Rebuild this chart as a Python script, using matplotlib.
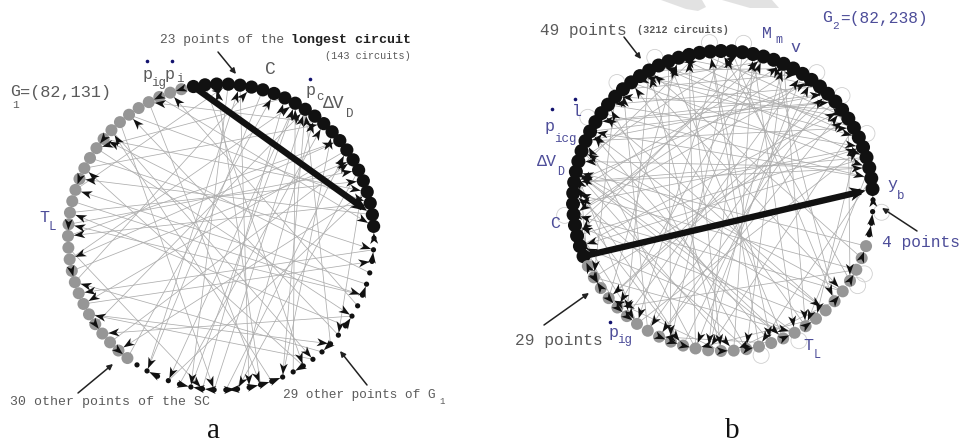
import numpy as np
import matplotlib
matplotlib.use("Agg")
import matplotlib.pyplot as plt
from matplotlib.patches import Circle, Polygon

# -----------------------------------------------------------------
# Graph data: 82 points per graph, edges are (from, to) point indices
# -----------------------------------------------------------------

# G1 = (82,131): points 0-22 longest circuit, 23-51 other points of G1,
# 52-81 other points of the SC
g1_circuit = list(range(0, 23))
g1_other = list(range(23, 52))
g1_sc = list(range(52, 82))
g1_longest = (0, 21)
g1_edges = [
    (60, 5), (62, 9), (64, 14), (66, 18), (68, 3), (70, 12), (72, 30), (74, 35),
    (76, 20), (78, 40), (56, 10), (54, 16), (58, 25), (52, 7), (57, 33), (63, 45),
    (67, 28), (71, 24), (75, 44), (79, 22), (45, 8), (47, 12), (40, 2), (38, 13),
    (36, 70), (34, 60), (32, 76), (30, 55), (28, 65), (26, 73), (42, 11), (48, 19),
    (50, 4), (24, 59), (27, 68), (29, 80), (31, 66), (35, 57), (39, 74), (43, 15),
    (3, 46), (6, 50), (10, 38), (14, 62), (17, 42), (19, 53), (21, 69), (1, 36),
    (8, 72), (12, 78), (15, 58), (18, 32), (20, 64), (4, 41), (9, 48), (33, 10),
    (37, 9), (44, 10), (46, 9), (61, 16), (65, 17), (73, 19),
    (41, 40), (43, 42), (39, 38), (44, 45), (36, 37), (33, 34), (31, 30), (28, 27),
    (25, 24), (23, 22), (47, 46), (49, 50), (13, 12), (11, 10), (16, 15), (2, 1),
    (6, 7), (81, 80), (79, 78), (73, 72), (69, 68), (65, 64), (61, 60), (56, 55),
    (53, 52), (42, 43), (40, 39), (45, 46),
]

# G2 = (82,238): points 0-48 (49 points), 49-52 (4 points), 53-81 (29 points)
g2_circuit = list(range(0, 49))
g2_other = list(range(49, 53))
g2_rest = list(range(53, 82))
g2_longest = (0, 48)
g2_loops = [4, 13, 17, 21, 26, 29, 36, 39, 43, 50, 55, 56, 62, 65]
g2_edges = [
    (60, 3), (62, 8), (64, 12), (66, 15), (68, 20), (70, 24), (72, 28), (74, 31),
    (76, 35), (78, 38), (80, 41), (55, 6), (57, 10), (59, 14), (61, 18), (63, 22),
    (65, 26), (67, 30), (69, 33), (71, 36), (73, 40), (75, 44), (77, 2), (79, 5),
    (81, 9), (1, 40), (2, 44), (4, 36), (6, 33), (7, 46), (9, 29), (11, 42),
    (13, 38), (14, 47), (17, 35), (19, 43), (21, 45), (23, 37), (25, 41), (3, 31),
    (8, 25), (12, 39), (15, 44), (18, 46), (20, 34), (34, 4), (36, 7), (38, 11),
    (39, 13), (40, 16), (41, 19), (42, 21), (43, 23), (45, 1), (46, 9), (47, 12),
    (44, 5), (37, 15), (32, 18), (30, 2), (28, 58), (30, 62), (33, 66), (35, 70),
    (37, 74), (39, 78), (41, 56), (43, 60), (26, 64), (24, 68), (22, 72), (20, 76),
    (16, 80), (12, 59), (10, 63), (8, 67), (5, 71), (3, 75), (0, 79), (46, 61),
    (47, 65), (42, 69), (38, 73), (31, 77), (54, 20), (56, 27), (58, 32), (62, 1),
    (66, 6), (70, 11), (74, 17), (78, 23), (53, 8), (57, 4), (59, 8), (63, 8),
    (71, 7), (75, 8), (45, 7), (44, 36), (41, 36), (40, 37), (64, 73), (58, 67),
    (55, 77), (60, 70), (68, 78), (80, 62), (33, 61), (29, 69), (27, 75), (19, 57),
    (51, 50), (52, 51), (49, 48), (54, 53), (56, 55), (58, 57), (61, 60), (63, 62),
    (66, 65), (68, 67), (71, 70), (73, 72), (76, 75), (78, 77), (80, 79), (81, 0),
    (2, 1), (5, 4), (7, 6), (10, 9), (13, 12), (17, 16), (24, 23), (29, 28),
    (33, 32), (37, 36), (40, 39), (44, 43), (47, 46), (72, 71), (77, 76), (79, 80),
]

# -----------------------------------------------------------------
# Layout (pixel units, y pointing down)
# -----------------------------------------------------------------
W, H = 964, 446
G1_CENTER, G1_R = (221, 237), 153
G2_CENTER, G2_R = (723, 201), 150
# start/end angle in degrees for each consecutive group of points
G1_SPANS = [(100.4, 4.0, 23), (-0.4, -123.3, 29), (-127.7, -255.0, 30)]
G2_SPANS = [(201.6, 4.6, 49), (0.4, -13.0, 4), (-17.5, -154.3, 29)]

EDGE_COLOR = "#adadad"
GREY_NODE = "#969696"
BLACK_NODE = "#111111"
GREY_TXT = "#5a5a5a"
BLUE_TXT = "#4d4d99"
DOT_COLOR = "#12126e"
MONO = ["Liberation Mono", "DejaVu Sans Mono"]
SERIF = ["Liberation Serif", "DejaVu Serif"]


def ring(center, radius, spans):
    ang = np.concatenate([np.linspace(a0, a1, n) for a0, a1, n in spans])
    a = np.radians(ang)
    return np.column_stack([center[0] + radius * np.cos(a),
                            center[1] - radius * np.sin(a)]), a


def head(ax, tip, u, length, half, z=4):
    n = np.array([-u[1], u[0]])
    back = tip - u * length
    pts = [tip, back + n * half, tip - u * length * 0.72, back - n * half]
    ax.add_patch(Polygon(pts, closed=True, facecolor=BLACK_NODE,
                         edgecolor="none", zorder=z))


def draw_graph(ax, pos, radius, color, edges, longest, loops=(), angles=None):
    for s, d in edges:
        p, q = pos[s], pos[d]
        ax.plot([p[0], q[0]], [p[1], q[1]], color=EDGE_COLOR, lw=0.55,
                zorder=1, solid_capstyle="butt")
    # self-loops drawn outside the ring
    for k in loops:
        c = pos[k] + 9 * np.array([np.cos(angles[k]), -np.sin(angles[k])])
        ax.add_patch(Circle(c, 8, facecolor="none", edgecolor="#cfcfcf",
                            lw=0.6, zorder=1))
    # longest circuit chord
    s, d = longest
    p, q = pos[s], pos[d]
    u = (q - p) / np.linalg.norm(q - p)
    ax.plot([p[0], (q - u * 12)[0]], [p[1], (q - u * 12)[1]],
            color=BLACK_NODE, lw=4.6, zorder=3, solid_capstyle="butt")
    for k in range(len(pos)):
        ax.add_patch(Circle(pos[k], radius[k], facecolor=color[k],
                            edgecolor="none", zorder=2))
    head(ax, q - u * radius[d], u, 16, 7, z=5)
    for s, d in edges:
        p, q = pos[s], pos[d]
        u = (q - p) / np.linalg.norm(q - p)
        head(ax, q - u * radius[d], u, 11, 4.0)


def txt(ax, x, y, s, size, color, ha="left", weight="normal", family=MONO):
    ax.text(x, y, s, fontsize=size, color=color, ha=ha, va="center",
            family=family, fontweight=weight, zorder=6)


def dot(ax, x, y):
    ax.plot(x, y, "o", ms=2.6, color=DOT_COLOR, mec="none", zorder=6)


def pointer(ax, start, end):
    ax.annotate("", xy=end, xytext=start,
                arrowprops=dict(arrowstyle="-|>", lw=1.1, color="#222222",
                                mutation_scale=8, shrinkA=0, shrinkB=0),
                zorder=6)


fig = plt.figure(figsize=(W / 100, H / 100), dpi=100)
ax = fig.add_axes([0, 0, 1, 1])
ax.set_xlim(0, W)
ax.set_ylim(H, 0)
ax.axis("off")

# faint mark at the top of the page
ax.add_patch(Polygon([(661, 0), (702, 0), (706, 7), (698, 11), (686, 9)],
                     facecolor="#e2e2e2", edgecolor="none", zorder=0))
ax.add_patch(Polygon([(722, 0), (772, 0), (779, 8), (750, 8)],
                     facecolor="#e2e2e2", edgecolor="none", zorder=0))

# ---- graph a ----
pos1, ang1 = ring(G1_CENTER, G1_R, G1_SPANS)
rad1 = np.zeros(82)
col1 = [None] * 82
for k in g1_circuit:
    rad1[k], col1[k] = 6.6, BLACK_NODE
for k in g1_other:
    rad1[k], col1[k] = 2.6, BLACK_NODE
for k in g1_sc:
    rad1[k], col1[k] = 6.0, GREY_NODE
draw_graph(ax, pos1, rad1, col1, g1_edges, g1_longest)

txt(ax, 10, 92, "G", 12, GREY_TXT)
txt(ax, 12, 105, "1", 8, GREY_TXT)
txt(ax, 20, 92, "=(82,131)", 12.2, GREY_TXT)
dot(ax, 147, 61)
txt(ax, 143, 74, "p", 12, GREY_TXT)
txt(ax, 151, 83, "ig", 9, GREY_TXT)
dot(ax, 172, 61)
txt(ax, 165, 74, "p", 12, GREY_TXT)
txt(ax, 176, 79, "i", 9, GREY_TXT)
txt(ax, 270, 69, "C", 13, GREY_TXT, ha="center")
dot(ax, 310, 79)
txt(ax, 306, 91, "p", 12, GREY_TXT)
txt(ax, 316, 97, "c", 9, GREY_TXT)
txt(ax, 323, 104, "ΔV", 13, GREY_TXT)
txt(ax, 346, 114, "D", 9, GREY_TXT)
txt(ax, 39, 217, "T", 12, BLUE_TXT)
txt(ax, 49, 227, "L", 9, BLUE_TXT)

txt(ax, 160, 40, "23 points of the", 9.4, GREY_TXT)
txt(ax, 291, 40, "longest circuit", 9.6, "#222222", weight="bold")
txt(ax, 325, 56, "(143 circuits)", 7.3, GREY_TXT)
pointer(ax, (218, 52), (236, 74))
txt(ax, 10, 402, "30 other points of the SC", 9.5, GREY_TXT)
pointer(ax, (78, 393), (113, 364))
txt(ax, 283, 395, "29 other points of G", 9.2, GREY_TXT)
txt(ax, 439, 401, "1", 6.5, GREY_TXT)
pointer(ax, (367, 385), (340, 351))
txt(ax, 214, 431, "a", 21, "#111111", ha="center", family=SERIF)

# ---- graph b ----
pos2, ang2 = ring(G2_CENTER, G2_R, G2_SPANS)
rad2 = np.zeros(82)
col2 = [None] * 82
for k in g2_circuit:
    rad2[k], col2[k] = 7.0, BLACK_NODE
for k in g2_other:
    rad2[k], col2[k] = 2.6, BLACK_NODE
for k in g2_rest:
    rad2[k], col2[k] = 6.0, GREY_NODE
draw_graph(ax, pos2, rad2, col2, g2_edges, g2_longest, g2_loops, ang2)

txt(ax, 540, 30, "49 points", 11.6, GREY_TXT)
txt(ax, 637, 30, "(3212 circuits)", 7.3, GREY_TXT, weight="bold")
pointer(ax, (624, 37), (641, 59))
txt(ax, 762, 33, "M", 12, BLUE_TXT)
txt(ax, 775, 40, "m", 8.5, BLUE_TXT)
txt(ax, 795, 47, "v", 12, BLUE_TXT, ha="center")
txt(ax, 822, 18, "G", 12, BLUE_TXT)
txt(ax, 832, 26, "2", 8, BLUE_TXT)
txt(ax, 840, 18, "=(82,238)", 11.7, BLUE_TXT)
dot(ax, 575, 99)
txt(ax, 577, 111, "l", 12, BLUE_TXT, ha="center")
dot(ax, 552, 109)
txt(ax, 545, 126, "p", 12, BLUE_TXT)
txt(ax, 554, 139, "icg", 9, BLUE_TXT)
txt(ax, 537, 162, "ΔV", 12, BLUE_TXT)
txt(ax, 557, 172, "D", 8.5, BLUE_TXT)
txt(ax, 555, 224, "C", 12, BLUE_TXT, ha="center")
txt(ax, 887, 185, "y", 12, BLUE_TXT)
txt(ax, 897, 196, "b", 9, BLUE_TXT)
txt(ax, 882, 243, "4 points", 11.7, BLUE_TXT)
pointer(ax, (917, 231), (882, 208))
txt(ax, 515, 341, "29 points", 11.7, GREY_TXT)
pointer(ax, (544, 325), (589, 293))
dot(ax, 610, 322)
txt(ax, 609, 332, "p", 12, BLUE_TXT)
txt(ax, 617, 340, "ig", 9, BLUE_TXT)
txt(ax, 803, 345, "T", 12, BLUE_TXT)
txt(ax, 814, 355, "L", 8.5, BLUE_TXT)
txt(ax, 732, 431, "b", 21, "#111111", ha="center", family=SERIF)

fig.savefig("out.png", dpi=100)
